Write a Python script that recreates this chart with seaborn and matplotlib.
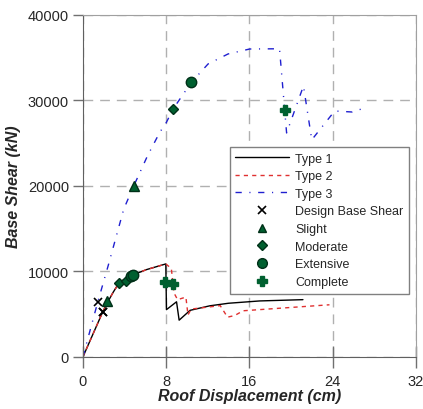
import matplotlib
matplotlib.use('Agg')
import matplotlib.pyplot as plt
import seaborn as sns
from matplotlib.lines import Line2D

# pushover curves (roof displacement cm, base shear kN)
type1_x = [0, 1.9, 2.4, 2.9, 3.5, 4.1, 4.8, 6.1, 7.97, 8.03, 9.0, 9.25, 10.3, 12.2, 14.0, 17.0, 21.15]
type1_y = [0, 5250, 6450, 7550, 8700, 9150, 9590, 10210, 10880, 5530, 6450, 4300, 5450, 5980, 6280, 6550, 6700]

type2_x = [0, 1.9, 2.4, 2.9, 3.5, 4.1, 4.8, 6.1, 7.97, 8.5, 8.75, 9.1, 9.9, 10.1, 10.4, 13.2, 13.9, 14.6, 15.4, 23.7]
type2_y = [0, 5250, 6450, 7550, 8700, 9150, 9590, 10210, 10880, 10350, 7500, 6700, 7000, 4900, 5600, 6000, 4650, 4850, 5400, 6100]

type3_x = [0, 1.4, 2.43, 3.93, 4.9, 6.2, 7.39, 8.03, 8.67, 10.43, 12.03, 13.95, 16.03, 18.9,
           19.58, 21.2, 22.0, 24.2, 25.9, 27.06]
type3_y = [0, 6300, 10680, 17310, 20040, 23500, 26280, 27450, 29010, 32130, 34270, 35440, 36020, 36050,
           26200, 31700, 25400, 28770, 28650, 29120]

# damage state points
design_x = [1.41, 1.95, 1.95]
design_y = [6400, 5300, 5300]
slight_x = [2.36, 4.9]
slight_y = [6590, 20040]
moderate_x = [3.49, 4.1, 8.67]
moderate_y = [8660, 8930, 29010]
extensive_x = [4.6, 4.83, 10.43]
extensive_y = [9440, 9590, 32130]
complete_x = [7.87, 8.67, 19.39]
complete_y = [8740, 8540, 28890]

x_ticks = [0, 8, 16, 24, 32]
y_ticks = [0, 10000, 20000, 30000, 40000]

sns.set_style('ticks')
plt.rcParams['font.family'] = ['Liberation Sans', 'DejaVu Sans']

green = '#006030'
dark = '#003018'
red_ls = (0, (3, 3))
blue_ls = (0, (4.5, 5.5, 0.8, 5.5))

fig = plt.figure(figsize=(4.23, 4.10), dpi=100)
ax = fig.add_axes([0.196, 0.127, 0.787, 0.834])

sns.lineplot(x=type1_x, y=type1_y, sort=False, estimator=None, ax=ax, color='black', linewidth=1.0)
sns.lineplot(x=type2_x, y=type2_y, sort=False, estimator=None, ax=ax, color='#e03030',
             linewidth=1.0, linestyle=red_ls)
sns.lineplot(x=type3_x, y=type3_y, sort=False, estimator=None, ax=ax, color='#2020d0',
             linewidth=1.0, linestyle=blue_ls)

ax.plot(design_x, design_y, linestyle='none', marker='x', color='black', markersize=6, mew=1.2)
ax.plot(slight_x, slight_y, linestyle='none', marker='^', color=green, markeredgecolor=dark,
        markersize=6.5)
ax.plot(moderate_x, moderate_y, linestyle='none', marker='D', color=green, markeredgecolor=dark,
        markersize=5)
ax.plot(extensive_x, extensive_y, linestyle='none', marker='o', color=green, markeredgecolor=dark,
        markersize=7.5)
ax.plot(complete_x, complete_y, linestyle='none', marker='P', color=green, markeredgecolor=green,
        markersize=7)

ax.set_xlim(0, 32)
ax.set_ylim(0, 40000)
ax.set_xticks(x_ticks)
ax.set_yticks(y_ticks)
ax.grid(True, color='#b0b0b0', linestyle=(0, (7, 5)), linewidth=1.0)
ax.tick_params(axis='x', direction='inout', length=16, width=1, color='#707070', labelsize=10.5, pad=4)
ax.tick_params(axis='y', direction='out', length=7, width=1, color='#707070', labelsize=10.5, pad=3)
for side in ['left', 'bottom']:
    ax.spines[side].set_color('#606060')
for side in ['top', 'right']:
    ax.spines[side].set_visible(True)
    ax.spines[side].set_color('#a0a0a0')

ax.set_xlabel('Roof Displacement (cm)', fontsize=11.5, fontweight='bold', fontstyle='italic', labelpad=0)
ax.set_ylabel('Base Shear (kN)', fontsize=11.5, fontweight='bold', fontstyle='italic', labelpad=5)

handles = [
    Line2D([], [], color='black', linewidth=1.0),
    Line2D([], [], color='#e03030', linewidth=1.0, linestyle=red_ls),
    Line2D([], [], color='#2020d0', linewidth=1.0, linestyle=blue_ls),
    Line2D([], [], linestyle='none', marker='x', color='black', markersize=6, mew=1.2),
    Line2D([], [], linestyle='none', marker='^', color=green, markeredgecolor=dark, markersize=6),
    Line2D([], [], linestyle='none', marker='D', color=green, markeredgecolor=dark, markersize=5),
    Line2D([], [], linestyle='none', marker='o', color=green, markeredgecolor=dark, markersize=7),
    Line2D([], [], linestyle='none', marker='P', color=green, markeredgecolor=green, markersize=7),
]
labels = ['Type 1', 'Type 2', 'Type 3', 'Design Base Shear', 'Slight', 'Moderate', 'Extensive', 'Complete']
leg = ax.legend(handles, labels, loc='upper left', bbox_to_anchor=(0.441, 0.614), borderaxespad=0,
                fontsize=9, frameon=True, fancybox=False, framealpha=1, edgecolor='#808080',
                handlelength=4.3, labelspacing=0.45, borderpad=0.45, handletextpad=0.5)
leg.get_frame().set_linewidth(1.0)

fig.savefig('out.png', dpi=100)
